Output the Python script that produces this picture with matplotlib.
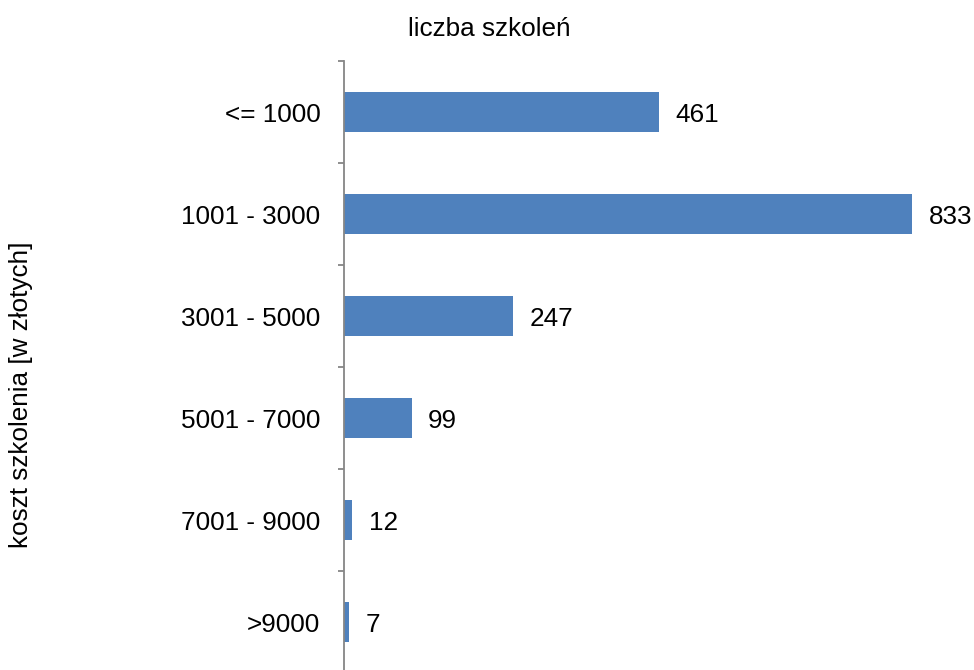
import matplotlib
matplotlib.use("Agg")
import matplotlib.pyplot as plt

categories = ["<= 1000", "1001 - 3000", "3001 - 5000", "5001 - 7000", "7001 - 9000", ">9000"]
values = [461, 833, 247, 99, 12, 7]
title = "liczba szkoleń"
ylabel = "koszt szkolenia [w złotych]"

plt.rcParams['font.family'] = ['Liberation Sans', 'DejaVu Sans']
FS = 18.8
W, H = 974, 670
fig = plt.figure(figsize=(W/100, H/100), dpi=100)
left, right = 344, 958
top, bottom = 61, 673
ax = fig.add_axes([left/W, (H-bottom)/H, (right-left)/W, (bottom-top)/H])

y = list(range(len(categories)))
ax.barh(y, values, height=0.4, color="#4F81BD")
ax.set_xlim(0, 900)
ax.set_ylim(len(categories)-0.5, -0.5)
for yi, v in zip(y, values):
    ax.annotate(str(v), (v, yi), xytext=(12, -2), textcoords="offset points",
                ha="left", va="center", fontsize=FS, color="black")

for s in ["top", "right", "bottom"]:
    ax.spines[s].set_visible(False)
ax.spines["left"].set_color("#868686")
ax.spines["left"].set_linewidth(1.3)
ax.set_xticks([])
ax.set_yticks(y)
ax.set_yticklabels(categories, fontsize=FS)
ax.tick_params(axis="y", which="major", length=0, pad=17)
ax.set_yticks([i - 0.5 for i in range(len(categories)+1)], minor=True)
ax.tick_params(axis="y", which="minor", length=6*0.72, width=1.3, color="#868686", direction="out")

fig.text(489/W, 1 - 29/H, title, ha="center", va="center", fontsize=FS)
fig.text(21/W, 1 - 395/H, ylabel, ha="center", va="center", rotation=90, fontsize=FS)

fig.savefig("out.png", dpi=100)
